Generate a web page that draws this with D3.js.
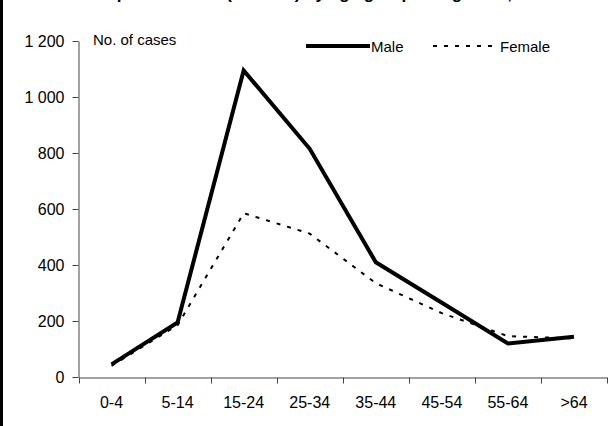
<!DOCTYPE html>
<html>
<head>
<meta charset="utf-8">
<script src="https://cdn.jsdelivr.net/npm/d3@7"></script>
<style>
  body { margin: 0; background: #fff; }
  svg { display: block; font-family: Arial, "Liberation Sans", sans-serif; }
</style>
</head>
<body>
<svg id="chart" width="610" height="426"></svg>
<script>
// age groups and case counts
var ageGroups = ["0-4", "5-14", "15-24", "25-34", "35-44", "45-54", "55-64", ">64"];
var male   = [45, 195, 1095, 815, 410, 265, 120, 144];
var female = [40, 185, 585, 512, 335, 228, 146, 138];
var yTicks = [0, 200, 400, 600, 800, 1000, 1200];

var svg = d3.select("#chart");

var x = d3.scaleBand()
    .domain(ageGroups)
    .range([78.5, 607]);

var y = d3.scaleLinear()
    .domain([0, 1200])
    .range([377, 41]);

var fmt = d3.formatLocale({decimal: ".", thousands: " ", grouping: [3], currency: ["", ""]}).format(",d");

// black bar down the left edge
svg.append("rect")
  .attr("x", 0).attr("y", 0)
  .attr("width", 3).attr("height", 426)
  .attr("fill", "#000");

// title, mostly cut off at the top as in the original
svg.append("text")
  .attr("x", 95)
  .attr("y", -1)
  .attr("font-size", 17)
  .attr("font-weight", "bold")
  .text("Reported cases (n=5 240) by age group and gender, 2008");

// y axis
var yAxis = svg.append("g")
  .attr("transform", "translate(78.5,0)")
  .call(d3.axisLeft(y).tickValues(yTicks).tickFormat(fmt).tickSize(6).tickSizeOuter(0).tickPadding(8));
yAxis.select(".domain").attr("stroke", "#444");
yAxis.selectAll(".tick line").attr("stroke", "#444");
yAxis.selectAll(".tick text")
  .attr("font-size", 16)
  .attr("font-family", "Arial, 'Liberation Sans', sans-serif")
  .attr("fill", "#000");

// x axis: labels centred on bands, ticks on band edges
var xAxis = svg.append("g")
  .attr("transform", "translate(0,377.5)")
  .call(d3.axisBottom(x).tickSize(0).tickPadding(19));
xAxis.select(".domain").attr("stroke", "#444");
xAxis.selectAll(".tick text")
  .attr("font-size", 16)
  .attr("font-family", "Arial, 'Liberation Sans', sans-serif")
  .attr("fill", "#000");

var edges = ageGroups.map(function(d) { return x(d); }).concat([x(ageGroups[ageGroups.length - 1]) + x.bandwidth()]);
xAxis.selectAll(".edge")
  .data(edges)
  .enter()
  .append("line")
  .attr("class", "edge")
  .attr("x1", function(d) { return Math.round(d) + 0.5; })
  .attr("x2", function(d) { return Math.round(d) + 0.5; })
  .attr("y1", 0)
  .attr("y2", 6)
  .attr("stroke", "#444");

// series lines
var line = d3.line()
  .x(function(d, i) { return x(ageGroups[i]) + x.bandwidth() / 2; })
  .y(function(d) { return y(d); });

svg.append("path")
  .datum(female)
  .attr("d", line)
  .attr("fill", "none")
  .attr("stroke", "#000")
  .attr("stroke-width", 2)
  .attr("stroke-dasharray", "4,7");

svg.append("path")
  .datum(male)
  .attr("d", line)
  .attr("fill", "none")
  .attr("stroke", "#000")
  .attr("stroke-width", 4)
  .attr("stroke-linejoin", "miter");

// y axis caption
svg.append("text")
  .attr("x", 93)
  .attr("y", 45)
  .attr("font-size", 15)
  .text("No. of cases");

// legend
var legend = svg.append("g");
legend.append("line")
  .attr("x1", 306).attr("x2", 370)
  .attr("y1", 46).attr("y2", 46)
  .attr("stroke", "#000")
  .attr("stroke-width", 4);
legend.append("text")
  .attr("x", 371).attr("y", 52)
  .attr("font-size", 15)
  .text("Male");
legend.append("line")
  .attr("x1", 433).attr("x2", 496)
  .attr("y1", 46).attr("y2", 46)
  .attr("stroke", "#000")
  .attr("stroke-width", 2)
  .attr("stroke-dasharray", "4,7");
legend.append("text")
  .attr("x", 500).attr("y", 52)
  .attr("font-size", 15)
  .text("Female");
</script>
</body>
</html>
